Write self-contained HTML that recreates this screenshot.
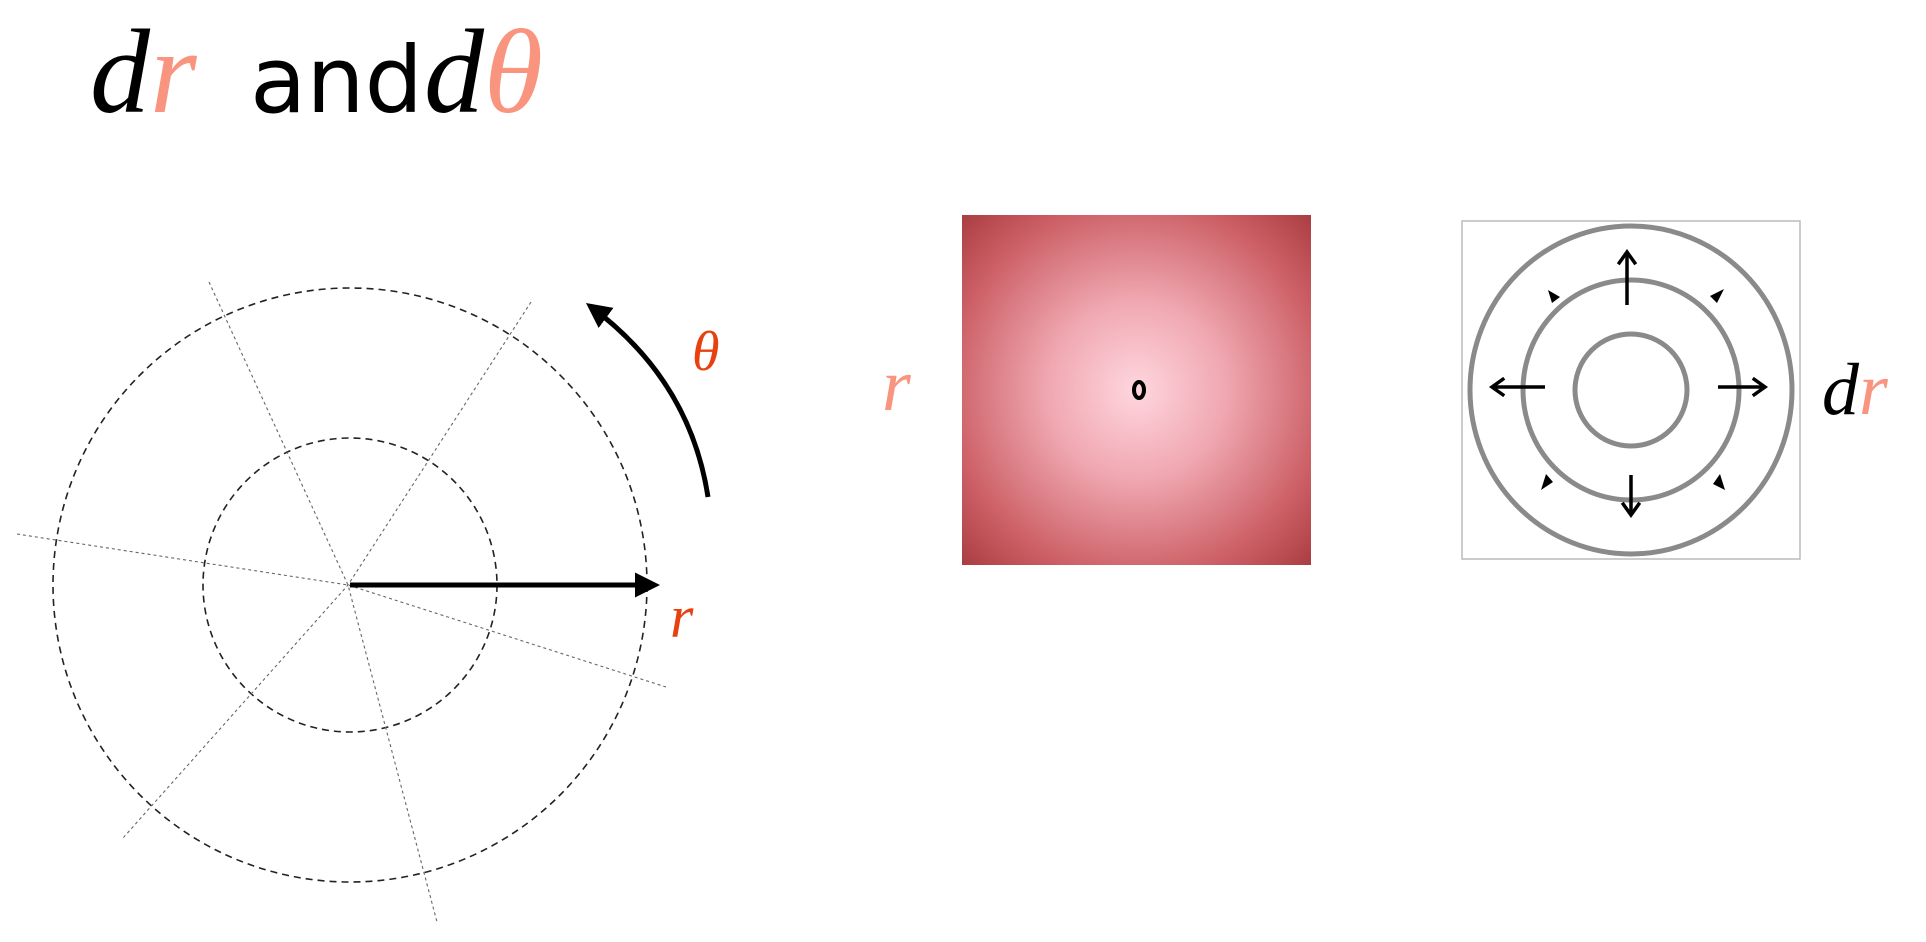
<!DOCTYPE html>
<html><head><meta charset="utf-8"><style>
body{margin:0;background:#fff;width:1926px;height:942px;overflow:hidden;font-family:"Liberation Sans",sans-serif}
svg{position:absolute;left:0;top:0}
</style></head><body>
<svg width="1926" height="942">
<defs>
<radialGradient id="rg" cx="50%" cy="50%" r="72%">
<stop offset="0" stop-color="#ffd6de"/><stop offset="0.35" stop-color="#f0a8b2"/><stop offset="0.75" stop-color="#cc5f65"/><stop offset="1" stop-color="#a63b3f"/>
</radialGradient>
<marker id="ah2" markerWidth="5" markerHeight="5" refX="4" refY="2.5" orient="auto" markerUnits="strokeWidth"><path d="M0,0 L5,2.5 L0,5 z" fill="#000"/></marker>
<marker id="ch" markerWidth="6" markerHeight="6" refX="4" refY="3" orient="auto" markerUnits="strokeWidth"><path d="M0.5,0.5 L4,3 L0.5,5.5" fill="none" stroke="#000" stroke-width="1"/></marker>
</defs>
<g font-size="120">
<text x="90" y="112" font-family="Liberation Serif,serif" font-style="italic">d<tspan fill="#f9947f">r</tspan></text>
<text x="250" y="112" font-family="DejaVu Sans,sans-serif" font-size="92">and</text>
<text x="424" y="112" font-family="Liberation Serif,serif" font-style="italic">d<tspan fill="#f9947f">θ</tspan></text>
</g>
<g fill="none">
<circle cx="350" cy="585" r="297" stroke="#222" stroke-width="1.6" stroke-dasharray="7,5"/>
<circle cx="350" cy="585" r="147" stroke="#222" stroke-width="1.6" stroke-dasharray="7,5"/>
<polyline points="209,282 348,585 437,922" stroke="#666" stroke-width="1.1" stroke-dasharray="3,3"/>
<polyline points="531,302 348,585 123,838" stroke="#666" stroke-width="1.1" stroke-dasharray="3,3"/>
<polyline points="17,534 348,585 666,687" stroke="#666" stroke-width="1.1" stroke-dasharray="3,3"/>
</g>
<line x1="350" y1="585" x2="655" y2="585" stroke="#000" stroke-width="5" marker-end="url(#ah2)"/>
<path d="M708,497 Q690,380 590,306" fill="none" stroke="#000" stroke-width="5" marker-end="url(#ah2)"/>
<text x="670" y="637" font-family="Liberation Serif,serif" font-style="italic" font-size="60" fill="#e8400f">r</text>
<text x="692" y="370" font-family="Liberation Serif,serif" font-style="italic" font-size="56" fill="#e8400f">θ</text>
<text x="882" y="410" font-family="Liberation Serif,serif" font-style="italic" font-size="74" fill="#f9947f">r</text>
<rect x="962" y="215" width="349" height="350" fill="url(#rg)"/>
<ellipse cx="1139" cy="390" rx="5" ry="8" fill="none" stroke="#000" stroke-width="4"/>
<g>
<rect x="1462" y="221" width="338" height="338" fill="#fff" stroke="#bbb" stroke-width="1.5"/>
<g fill="none" stroke="#8a8a8a" stroke-width="5">
<ellipse cx="1631" cy="390" rx="161" ry="164"/>
<ellipse cx="1631" cy="390" rx="108" ry="110"/>
<ellipse cx="1631" cy="390" rx="56" ry="56"/>
</g>
<g stroke="#000" stroke-width="3.5" fill="none" marker-end="url(#ch)">
<line x1="1627" y1="305" x2="1627" y2="252"/>
<line x1="1718" y1="387" x2="1765" y2="387"/>
<line x1="1545" y1="387" x2="1492" y2="387"/>
<line x1="1631" y1="475" x2="1631" y2="515"/>
</g>
<g fill="#000">
<polygon points="1552,303 1548,290 1560,297"/><polygon points="1717,303 1724,289 1710,296"/>
<polygon points="1546,474 1541,490 1553,482"/><polygon points="1720,474 1725,490 1713,484"/>
</g>
</g>
<text x="1822" y="414" font-family="Liberation Serif,serif" font-style="italic" font-size="74">d<tspan fill="#f9947f">r</tspan></text>
</svg>
</body></html>
